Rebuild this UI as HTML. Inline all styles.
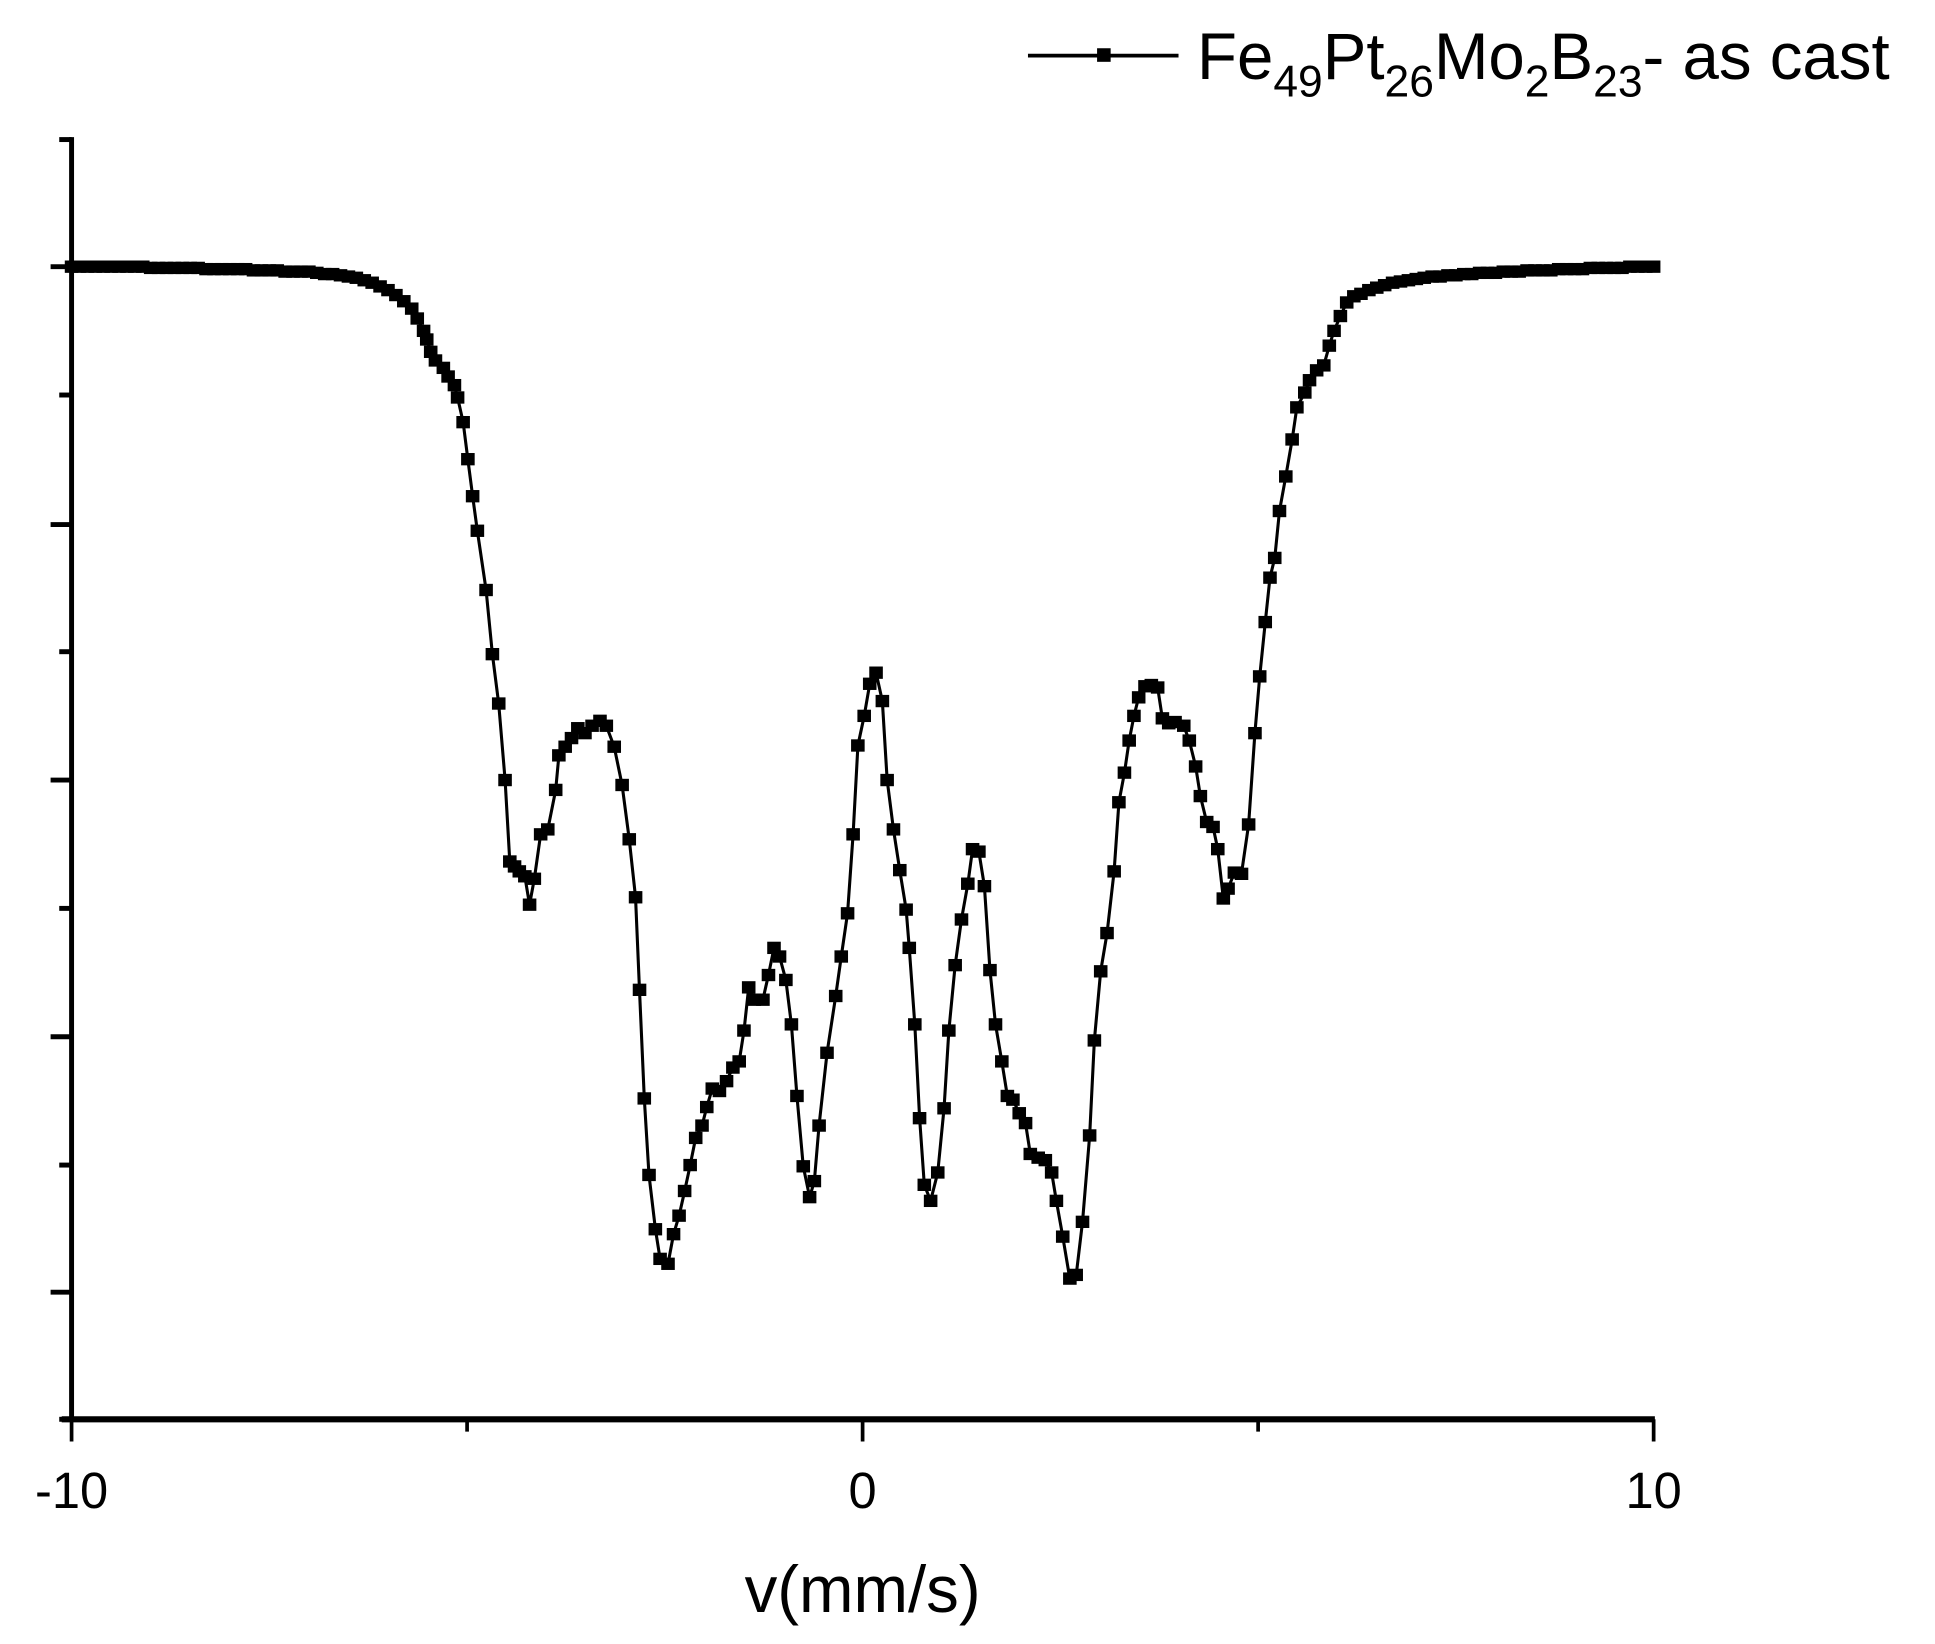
<!DOCTYPE html>
<html><head><meta charset="utf-8"><style>
html,body{margin:0;padding:0;background:#fff;}
svg{display:block;}
text{font-family:"Liberation Sans",sans-serif;fill:#000;}
</style></head><body>
<svg id="chart" width="1935" height="1644" viewBox="0 0 1568 1332" xmlns="http://www.w3.org/2000/svg">
<g id="axes"></g>
<g id="series"></g>
<g id="legend">
  <line x1="833" y1="45" x2="955" y2="45" stroke="#000" stroke-width="3"/>
  <rect x="889" y="39" width="11" height="11" fill="#000"/>
  <text x="970" y="64" font-size="53">Fe<tspan font-size="36" dy="14">49</tspan><tspan dy="-14">Pt</tspan><tspan font-size="36" dy="14">26</tspan><tspan dy="-14">Mo</tspan><tspan font-size="36" dy="14">2</tspan><tspan dy="-14">B</tspan><tspan font-size="36" dy="14">23</tspan><tspan dy="-14">- as cast</tspan></text>
</g>
<text x="699" y="1306" font-size="53" text-anchor="middle">v(mm/s)</text>
</svg>
<script>
const xTickLabels = ["-10", "0", "10"];
const xTickValues = [-10, 0, 10];
const xMinorTicks = [-5, 5];
const yMajorTicks = [934, 725, 518, 310, 103];
const yMinorTicks = [1037, 830, 622, 414, 206, 0];
// left baseline wing: velocity (mm/s) and relative counts
const leftWingV = [-10.0,-9.9,-9.8,-9.7,-9.6,-9.5,-9.4,-9.3,-9.2,-9.1,
  -9.0,-8.9,-8.8,-8.7,-8.6,-8.5,-8.4,-8.3,-8.2,-8.1,
  -8.0,-7.9,-7.8,-7.7,-7.6,-7.5,-7.4,-7.3,-7.2,-7.1,
  -7.0,-6.9,-6.8,-6.7,-6.6,-6.5,-6.4,-6.3,-6.2,-6.1,
  -6.0,-5.9,-5.8,-5.7];
const leftWingR = [934,934,934,934,934,934,934,934,934,934,
  933,933,933,933,933,933,933,932,932,932,
  932,932,932,931,931,931,931,930,930,930,
  930,929,928,928,927,926,925,923,921,918,
  915,911,906,900];
// absorption region
const coreV = [-5.63,-5.55,-5.51,-5.46,-5.40,-5.30,-5.24,-5.16,-5.12,-5.05,
  -4.99,-4.93,-4.87,-4.76,-4.68,-4.60,-4.52,-4.46,-4.40,-4.34,
  -4.27,-4.21,-4.15,-4.07,-3.98,-3.88,-3.84,-3.76,-3.68,-3.60,
  -3.51,-3.42,-3.32,-3.24,-3.14,-3.04,-2.95,-2.87,-2.82,-2.76,
  -2.70,-2.62,-2.56,-2.46,-2.39,-2.32,-2.25,-2.18,-2.11,-2.03,
  -1.97,-1.90,-1.81,-1.72,-1.64,-1.56,-1.50,-1.44,-1.37,-1.26,
  -1.19,-1.12,-1.05,-0.97,-0.90,-0.83,-0.75,-0.67,-0.61,-0.55,
  -0.45,-0.34,-0.27,-0.19,-0.12,-0.06,0.02,0.09,0.17,0.25,
  0.31,0.39,0.47,0.55,0.59,0.66,0.72,0.78,0.86,0.95,
  1.03,1.09,1.17,1.25,1.33,1.39,1.47,1.54,1.61,1.68,
  1.76,1.83,1.90,1.98,2.06,2.12,2.22,2.31,2.39,2.45,
  2.53,2.62,2.70,2.78,2.87,2.93,3.01,3.09,3.18,3.24,
  3.31,3.37,3.43,3.49,3.57,3.65,3.73,3.79,3.87,3.95,
  4.06,4.13,4.21,4.27,4.35,4.43,4.49,4.56,4.62,4.70,
  4.79,4.88,4.96,5.02,5.09,5.15,5.21,5.27,5.35,5.43,
  5.49,5.59,5.65,5.74,5.83,5.90,5.96,6.04,6.12,6.21];
const coreR = [892,882,875,865,858,852,845,838,828,808,
  778,748,720,672,620,580,518,452,448,444,
  440,417,438,474,478,510,538,545,552,560,
  556,562,566,562,545,514,470,423,348,260,
  198,154,130,126,150,165,185,206,228,238,
  253,268,266,274,285,290,315,350,340,340,
  360,382,375,356,320,262,205,180,193,238,
  297,343,375,410,474,546,570,596,605,582,
  518,478,445,413,382,320,244,190,177,200,
  252,315,368,405,434,462,460,432,364,320,
  290,262,259,248,240,215,212,210,200,177,
  148,114,117,160,230,307,363,394,444,500,
  524,550,570,585,594,595,593,568,564,565,
  562,550,529,505,484,480,462,422,430,443,
  442,482,556,602,646,682,698,736,764,794,
  820,832,842,850,854,870,882,894,905,910];
// right baseline wing
const rightWingV = [6.3,6.4,6.5,6.6,6.7,6.8,6.9,7.0,7.1,7.2,
  7.3,7.4,7.5,7.6,7.7,7.8,7.9,8.0,8.1,8.2,
  8.3,8.4,8.5,8.6,8.7,8.8,8.9,9.0,9.1,9.2,
  9.3,9.4,9.5,9.6,9.7,9.8,9.9,10.0];
const rightWingR = [912,915,917,919,921,922,923,924,925,926,
  926,927,927,928,928,929,929,929,930,930,
  930,931,931,931,931,932,932,932,932,933,
  933,933,933,933,934,934,934,934];

const velocity = leftWingV.concat(coreV, rightWingV);
const counts = leftWingR.concat(coreR, rightWingR);

const NS = "http://www.w3.org/2000/svg";
const X0 = 58, X1 = 1340, Y_ZERO = 1150;
function xScale(v){ return X0 + (v + 10) / 20 * (X1 - X0); }
function yScale(r){ return Y_ZERO - r; }
function mk(tag, attrs, parent){ const e = document.createElementNS(NS, tag); for (const k in attrs) e.setAttribute(k, attrs[k]); parent.appendChild(e); return e; }

const axes = document.getElementById('axes');
const yAxis = mk('line', {x1: X0, y1: yScale(1037) - 2, x2: X0, y2: yScale(0), stroke: '#000', 'stroke-width': 4}, axes);


const xAxis = mk('line', {x1: X0 - 8, y1: yScale(0), x2: X1 + 1, y2: yScale(0), stroke: '#000', 'stroke-width': 5}, axes);


yMajorTicks.forEach(t => {
  const l = mk('line', {x1: X0 - 17, y1: yScale(t), x2: X0, y2: yScale(t), stroke: '#000', 'stroke-width': 4}, axes);
  
  
});
yMinorTicks.forEach(t => {
  const l = mk('line', {x1: X0 - 10, y1: yScale(t), x2: X0, y2: yScale(t), stroke: '#000', 'stroke-width': 4}, axes);
  
  
});
const yb = yScale(0);
xTickValues.forEach((v, i) => {
  const l = mk('line', {x1: xScale(v), y1: yb, x2: xScale(v), y2: yb + 18, stroke: '#000', 'stroke-width': 3}, axes);
  
  
  const tx = mk('text', {x: xScale(v), y: yb + 72, 'font-size': 41, 'text-anchor': 'middle'}, axes);
  tx.textContent = xTickLabels[i];
  
  
});
xMinorTicks.forEach(v => {
  const l = mk('line', {x1: xScale(v), y1: yb, x2: xScale(v), y2: yb + 10, stroke: '#000', 'stroke-width': 3}, axes);
  
  
});

const series = document.getElementById('series');
const pts = velocity.map((v, i) => xScale(v).toFixed(1) + ',' + yScale(counts[i]).toFixed(1)).join(' ');
const line = mk('polyline', {points: pts, fill: 'none', stroke: '#000', 'stroke-width': 2.5, 'stroke-linejoin': 'round'}, series);


velocity.forEach((v, i) => {
  const r = mk('rect', {x: xScale(v) - 5.5, y: yScale(counts[i]) - 5, width: 11, height: 10, fill: '#000'}, series);
  
  
});
</script>
</body></html>
